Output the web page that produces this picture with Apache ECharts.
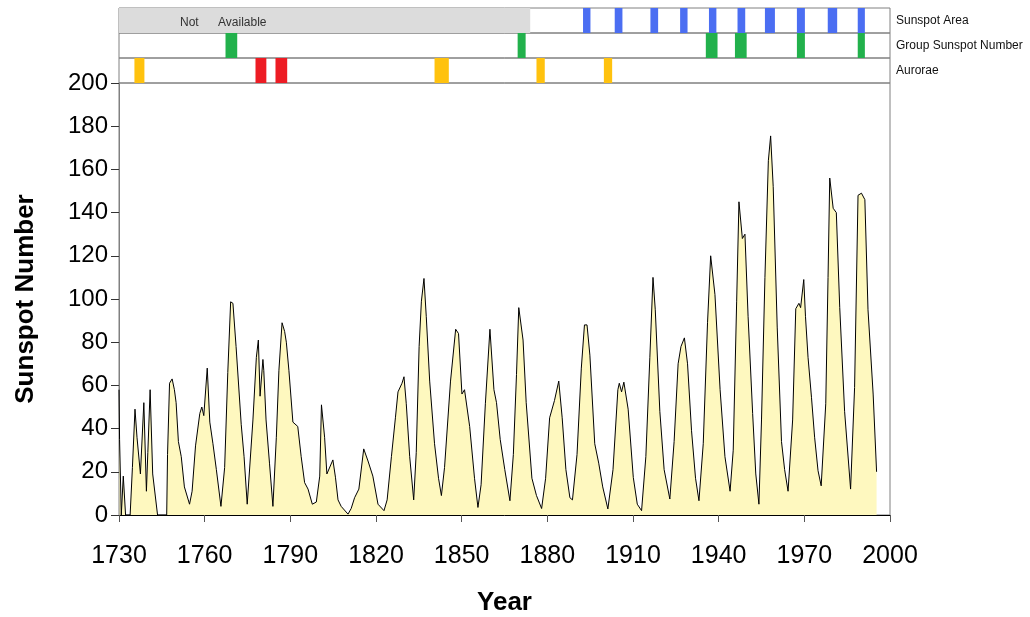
<!DOCTYPE html>
<html>
<head>
<meta charset="utf-8">
<title>Sunspot Number</title>
<script src="https://cdn.jsdelivr.net/npm/echarts@6/dist/echarts.min.js"></script>
<style>
  html, body { margin: 0; padding: 0; background: #fff; }
  #chart { width: 1030px; height: 617px; }
</style>
</head>
<body>
<div id="chart"></div>
<script>
// sunspot number (year, value)
const years = [
  1730.0, 1730.2, 1730.8, 1731.5, 1732.3, 1733.9, 1734.7, 1735.6, 1736.3, 1737.5,
  1738.7, 1739.6, 1740.1, 1740.9, 1741.8, 1743.5, 1746.7, 1747.0, 1747.7, 1748.6,
  1749.4, 1750.0, 1750.8, 1751.8, 1752.9, 1754.7, 1755.6, 1756.8, 1758.3, 1759.0,
  1759.7, 1760.9, 1761.8, 1762.9, 1764.1, 1765.7, 1767.0, 1768.1, 1769.1, 1769.9,
  1771.0, 1772.8, 1773.8, 1774.9, 1776.9, 1778.1, 1778.8, 1779.4, 1780.4, 1780.7,
  1781.5, 1782.7, 1783.9, 1785.1, 1786.0, 1787.1, 1788.0, 1788.6, 1789.5, 1790.9,
  1792.6, 1793.8, 1795.0, 1796.2, 1797.7, 1799.1, 1800.3, 1800.9, 1802.0, 1802.8,
  1804.9, 1805.8, 1806.7, 1807.8, 1810.2, 1811.3, 1812.5, 1814.0, 1815.7, 1817.2,
  1818.9, 1820.7, 1822.8, 1823.9, 1825.4, 1826.8, 1827.7, 1829.1, 1829.8, 1830.6,
  1831.8, 1833.2, 1834.1, 1835.1, 1835.9, 1836.8, 1837.6, 1838.8, 1840.5, 1841.9,
  1842.9, 1844.0, 1846.1, 1847.9, 1848.9, 1850.1, 1851.0, 1852.8, 1854.5, 1855.7,
  1856.8, 1858.3, 1859.9, 1861.3, 1862.2, 1863.5, 1865.1, 1866.9, 1868.1, 1869.2,
  1870.0, 1871.5, 1872.6, 1874.6, 1876.2, 1878.0, 1879.4, 1880.8, 1882.5, 1884.0,
  1885.2, 1886.5, 1887.9, 1888.8, 1890.4, 1891.9, 1893.0, 1893.9, 1894.9, 1896.6,
  1898.0, 1899.4, 1901.2, 1903.0, 1904.7, 1905.2, 1906.0, 1906.8, 1908.3, 1910.1,
  1911.5, 1913.0, 1914.5, 1915.9, 1917.0, 1917.8, 1919.4, 1920.9, 1922.9, 1924.4,
  1925.8, 1926.8, 1928.0, 1929.1, 1930.5, 1931.9, 1933.1, 1934.6, 1936.1, 1937.2,
  1938.7, 1940.5, 1942.2, 1944.0, 1945.1, 1946.3, 1947.1, 1948.3, 1949.2, 1950.3,
  1951.9, 1953.0, 1954.1, 1955.0, 1956.2, 1957.4, 1958.2, 1959.1, 1960.5, 1962.0,
  1963.1, 1964.3, 1965.9, 1967.0, 1968.1, 1968.7, 1969.8, 1970.4, 1971.3, 1972.5,
  1973.6, 1974.8, 1975.9, 1977.5, 1978.3, 1978.9, 1980.1, 1981.2, 1982.4, 1984.1,
  1986.2, 1987.6, 1988.8, 1990.0, 1991.2, 1992.3, 1994.1, 1995.3
]
const sunspots = [
  58, 35, 0, 18, 0, 0, 22, 49, 36, 19,
  52, 11, 29, 58, 19, 0, 0, 28, 61, 63,
  58, 52, 34, 27, 13, 5, 11, 32, 47, 50,
  46, 68, 43, 33, 21, 4, 22, 66, 98.7, 98,
  78, 42, 27, 5, 44, 73, 81, 55, 72, 67,
  44, 24, 4, 36, 67, 89, 85, 80, 67, 43,
  41, 27, 15, 12, 5, 6, 18, 51, 36, 19,
  25.5, 17.5, 7, 4, 0.4, 3, 8, 12, 30.6, 25,
  18, 5, 2, 7, 27, 45, 57, 61, 64, 51.5,
  27, 7, 29, 78, 99, 109.5, 92, 62, 33, 17,
  9, 22, 62, 86, 84, 56, 58, 41, 17, 3.5,
  14, 51.5, 86, 58, 52, 35, 21, 6.6, 28, 65,
  96, 81, 52, 17, 9, 3, 17, 45, 53, 62,
  45, 21, 8, 7, 28, 68, 88, 88, 74, 33,
  24, 13, 2.8, 21, 58, 61, 57, 61.5, 49, 17.4,
  5, 2, 27, 73, 110, 95, 48, 21, 7.4, 34,
  70, 78, 82, 70, 39, 17, 6.6, 33, 89, 120,
  102, 58, 27, 11, 30, 99, 145, 128, 130, 92,
  47, 19, 5, 44, 110, 164, 175.5, 152, 87, 34,
  21, 11, 44, 95.5, 98, 96, 109, 92, 73, 54.5,
  36, 20.5, 13.5, 51.5, 110, 156, 142, 140, 96, 48,
  12, 59, 148, 149, 146, 95, 56, 20
]

// marker strips, [start year, end year]
const areaMissing = [[1730, 1874]]
const areaMarks = [
  [1892.5, 1895.1], [1903.6, 1906.3], [1916.1, 1918.8], [1926.5, 1929.1], [1936.6, 1939.2],
  [1946.6, 1949.3], [1956.2, 1959.7], [1967.4, 1970.2], [1978.2, 1981.5], [1988.7, 1991.2]
]
const groupMarks = [
  [1767.3, 1771.4], [1869.6, 1872.4], [1935.5, 1939.6], [1945.7, 1949.8],
  [1967.4, 1970.2], [1988.7, 1991.2]
]
const auroraeYellow = [[1735.4, 1738.9], [1840.5, 1845.5], [1876.2, 1879.1], [1899.8, 1902.7]]
const auroraeRed = [[1777.8, 1781.6], [1784.8, 1788.9]]
const stripNames = ['Sunspot Area', 'Group Sunspot Number', 'Aurorae']

const font = 'Liberation Sans, Arial, sans-serif'
const chart = echarts.init(document.getElementById('chart'), null, { renderer: 'canvas' })

// rectangle spanning a year range over the full strip height
function spanRect(params, api) {
  const p0 = api.coord([api.value(0), 1])
  const p1 = api.coord([api.value(1), 0])
  return {
    type: 'rect',
    shape: { x: p0[0], y: p0[1], width: p1[0] - p0[0], height: p1[1] - p0[1] },
    style: { fill: api.visual('color') }
  }
}

function stripSeries(idx, data, color) {
  return {
    type: 'custom',
    xAxisIndex: idx,
    yAxisIndex: idx,
    renderItem: spanRect,
    encode: { x: [0, 1] },
    itemStyle: { color: color },
    silent: true,
    z: 1,
    data: data
  }
}

const stripTops = [8, 33, 58]
const grids = [{
  left: 119, right: 140, top: 83, bottom: 102,
  outerBoundsMode: 'none', containLabel: false,
  show: true, borderColor: '#808080', borderWidth: 1
}]
const xAxes = [{
  type: 'value',
  min: 1730,
  max: 2000,
  interval: 30,
  name: 'Year',
  nameLocation: 'middle',
  nameGap: 75,
  nameTextStyle: { fontFamily: font, fontSize: 26, fontWeight: 'bold', color: '#000' },
  axisLine: { lineStyle: { color: '#000', width: 1 } },
  axisTick: { length: 7, lineStyle: { color: '#555' } },
  axisLabel: { margin: 29, fontFamily: font, fontSize: 25, color: '#000', formatter: v => String(v) },
  splitLine: { show: false }
}]
const yAxes = [{
  type: 'value',
  min: 0,
  max: 200,
  interval: 20,
  name: 'Sunspot Number',
  nameLocation: 'middle',
  nameGap: 80,
  nameTextStyle: { fontFamily: font, fontSize: 26, fontWeight: 'bold', color: '#000' },
  axisLine: { show: true, lineStyle: { color: '#808080' } },
  axisTick: { show: true, length: 8, lineStyle: { color: '#333' } },
  axisLabel: { margin: 11, fontFamily: font, fontSize: 24, color: '#000' },
  splitLine: { show: false }
}]
stripTops.forEach((top, i) => {
  grids.push({
    left: 119, right: 140, top: top, height: 25,
    outerBoundsMode: 'none', show: true, borderColor: '#808080', borderWidth: 1
  })
  xAxes.push({ type: 'value', gridIndex: i + 1, min: 1730, max: 2000, show: false })
  yAxes.push({ type: 'value', gridIndex: i + 1, min: 0, max: 1, show: false })
})

const option = {
  animation: false,
  backgroundColor: '#fff',
  grid: grids,
  xAxis: xAxes,
  yAxis: yAxes,
  graphic: [
    { type: 'text', left: 180, top: 17, z: 100, style: { text: 'Not', font: '12px ' + font, fill: '#333' } },
    { type: 'text', left: 218, top: 17, z: 100, style: { text: 'Available', font: '12px ' + font, fill: '#333' } }
  ].concat(stripNames.map((name, i) => ({
    type: 'text',
    left: 896,
    top: stripTops[i] + 7,
    z: 100,
    style: { text: name, font: '12px ' + font, fill: '#111' }
  }))),
  series: [
    {
      type: 'line',
      data: years.map((y, i) => [y, sunspots[i]]),
      showSymbol: false,
      lineStyle: { color: '#000', width: 1 },
      areaStyle: { color: '#fef8bf', opacity: 1 },
      silent: true
    },
    stripSeries(1, areaMissing, '#dcdcdc'),
    stripSeries(1, areaMarks, '#4b6ef2'),
    stripSeries(2, groupMarks, '#22b14c'),
    stripSeries(3, auroraeYellow, '#ffc20e'),
    stripSeries(3, auroraeRed, '#ed1c24')
  ]
}

chart.setOption(option)
</script>
</body>
</html>
